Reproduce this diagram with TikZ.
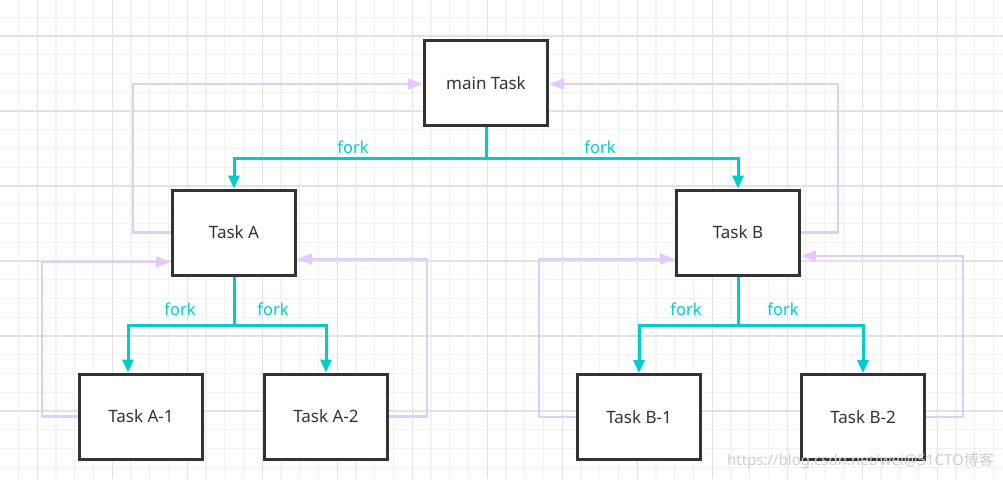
\documentclass[tikz,border=0pt]{standalone}
\usepackage{fontspec}
\setmainfont{Noto Sans}
\newfontfamily\cjkfont{Noto Sans CJK SC}
\usetikzlibrary{arrows.meta}
\definecolor{gridminor}{HTML}{F2F2F2}
\definecolor{gridmajor}{HTML}{E2E2E2}
\definecolor{boxline}{HTML}{333333}
\definecolor{forkc}{HTML}{00CCCC}
\definecolor{backc}{HTML}{E0CCFF}
\definecolor{wmark}{HTML}{CFCFCF}
\tikzset{
  task/.style={draw=boxline, line width=3pt, fill=white, minimum width=123pt, minimum height=85pt, inner sep=0pt, text=boxline, font=\fontsize{17pt}{20pt}\selectfont},
  forkline/.style={draw=forkc, line width=3pt},
  forkarrow/.style={forkline, -{Triangle[length=13pt,width=11pt]}},
  backarrow/.style={draw=backc, line width=2.5pt, -{Triangle[length=15pt,width=11pt]}},
  forklabel/.style={text=forkc, font=\fontsize{16.5pt}{19pt}\selectfont, inner sep=0pt}
}
\begin{document}
\begin{tikzpicture}[x=1pt,y=-1pt]
\useasboundingbox (0,0) rectangle (1003,479);
\fill[white] (0,0) rectangle (1003,479);
% grid
\foreach \i in {0,...,54} {
  \pgfmathsetmacro{\gx}{37.3+18.75*(\i-2)}
  \draw[gridminor, line width=1.2pt] (\gx,0) -- (\gx,479);
}
\foreach \i in {0,...,26} {
  \pgfmathsetmacro{\gy}{36+18.75*(\i-2)}
  \draw[gridminor, line width=1.2pt] (0,\gy) -- (1003,\gy);
}
\foreach \i in {0,...,14} {
  \pgfmathsetmacro{\gx}{37.3+75*\i}
  \draw[gridmajor, line width=1.2pt] (\gx,0) -- (\gx,479);
}
\foreach \i in {0,...,6} {
  \pgfmathsetmacro{\gy}{36+75*\i}
  \draw[gridmajor, line width=1.2pt] (0,\gy) -- (1003,\gy);
}
% nodes
\node[task] (main) at (486,83) {main Task};
\node[task] (A) at (234,232.5) {Task A};
\node[task] (B) at (738,232.5) {Task B};
\node[task] (A1) at (141,416.5) {Task A-1};
\node[task] (A2) at (326,416.5) {Task A-2};
\node[task] (B1) at (639,417) {Task B-1};
\node[task] (B2) at (863,417) {Task B-2};
% fork connectors
\coordinate (jm) at (486,158);
\coordinate (ja) at (234,325);
\coordinate (jb) at (738,325);
\draw[forkline] (main.south) -- (jm);
\draw[forkarrow] (jm) -| (A.north);
\draw[forkarrow] (jm) -| (B.north);
\draw[forkline] (A.south) -- (ja);
\draw[forkarrow] (ja) -| ([xshift=-13pt]A1.north);
\draw[forkarrow] (ja) -| (A2.north);
\draw[forkline] (B.south) -- (jb);
\draw[forkarrow] (jb) -| (B1.north);
\draw[forkarrow] (jb) -| (B2.north);
\node[forklabel] (f1) at (353,147) {fork};
\node[forklabel] (f2) at (600,147) {fork};
\node[forklabel] (f3) at (180,309) {fork};
\node[forklabel] (f4) at (273,309) {fork};
\node[forklabel] (f5) at (686,309) {fork};
\node[forklabel] (f6) at (783,309) {fork};
% feedback connectors
\coordinate (pa) at (133,84);
\coordinate (pb) at (838,84);
\coordinate (q1) at (42,262);
\coordinate (q2) at (427,259);
\coordinate (q3) at (539,259);
\coordinate (q4) at (963,256);
\draw[backarrow] (A.west) -| (pa) -- (pa -| main.west);
\draw[backarrow] (B.east) -| (pb) -- (pb -| main.east);
\draw[backarrow] (A1.west) -| (q1) -- (q1 -| A.west);
\draw[backarrow] (A2.east) -| (q2) -- (q2 -| A.east);
\draw[backarrow] (B1.west) -| (q3) -- (q3 -| B.west);
\draw[backarrow] (B2.east) -| (q4) -- (q4 -| B.east);
% watermark
\node[text=wmark, font=\fontsize{15pt}{17pt}\selectfont, anchor=east, inner sep=0pt] (wm) at (994,461) {https://blog.csdn.net/wei@51CTO{\cjkfont 博客}};
\end{tikzpicture}
\end{document}
